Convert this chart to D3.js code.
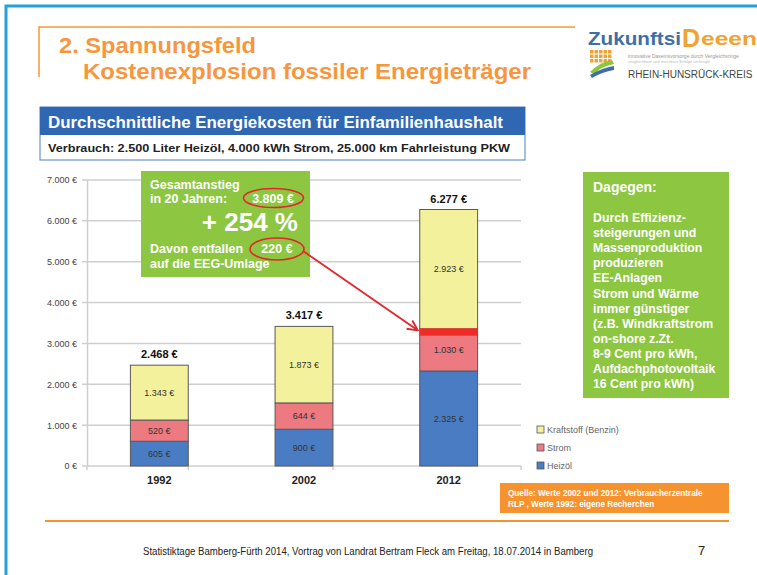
<!DOCTYPE html>
<html lang='de'>
<head>
<meta charset='UTF-8'>
<script src='https://d3js.org/d3.v7.min.js'></script>
<title>Kostenexplosion fossiler Energieträger</title>
<style>
  body { margin: 0; background: #fff; }
  svg { display: block; font-family: Arial, 'Liberation Sans', sans-serif; }
</style>
</head>
<body>
<svg id='slide' width='757' height='575'></svg>
<script>
// chart data
const years = ['1992', '2002', '2012']
const heizoel = [605, 900, 2325]
const strom = [520, 644, 1030]
const kraftstoff = [1343, 1873, 2923]
const totals = [2468, 3417, 6277]
const yTicks = [0, 1000, 2000, 3000, 4000, 5000, 6000, 7000]
const legendLabels = ['Kraftstoff (Benzin)', 'Strom', 'Heizöl']
const eegRange = [3190, 3370]   // red highlight on the 2012 bar (EEG share)

const rightBoxLines = ['Durch Effizienz-', 'steigerungen und', 'Massenproduktion', 'produzieren',
  'EE-Anlagen', 'Strom und Wärme', 'immer günstiger', '(z.B. Windkraftstrom',
  'on-shore z.Zt.', '8-9 Cent pro kWh,', 'Aufdachphotovoltaik', '16 Cent pro kWh)']

const colors = { heizoel: '#4a7cc3', strom: '#ec7a80', kraftstoff: '#f4f19c' }
const green = '#8dc641', orange = '#f7963d', blueFrame = '#23a3de'

const de = d3.formatLocale({ decimal: ',', thousands: '.', grouping: [3], currency: ['', ' €'] })
const euro = v => de.format(',')(v) + ' €'

const svg = d3.select('#slide')

// slide frame
svg.append('rect').attr('x', 6).attr('y', 6).attr('width', 760).attr('height', 580)
  .attr('fill', 'none').attr('stroke', blueFrame).attr('stroke-width', 3)

// title bracket + title
svg.append('path').attr('d', 'M39,77 V27 H575').attr('fill', 'none')
  .attr('stroke', orange).attr('stroke-width', 1.5)
svg.append('text').attr('x', 59).attr('y', 53).text('2. Spannungsfeld')
  .attr('font-size', 22).attr('font-weight', 'bold').attr('fill', orange)
  .attr('textLength', 197).attr('lengthAdjust', 'spacingAndGlyphs')
svg.append('text').attr('x', 83).attr('y', 79).text('Kostenexplosion fossiler Energieträger')
  .attr('font-size', 22).attr('font-weight', 'bold').attr('fill', orange)
  .attr('textLength', 448).attr('lengthAdjust', 'spacingAndGlyphs')

// logo (rough)
const logo = svg.append('g')
logo.append('text').attr('x', 588).attr('y', 45).attr('font-size', 19).attr('font-weight', 'bold')
  .attr('fill', '#3d6fa6').attr('textLength', 93).attr('lengthAdjust', 'spacingAndGlyphs').text('Zukunftsi')
logo.append('text').attr('x', 682).attr('y', 47).attr('font-size', 25).attr('font-weight', 'bold')
  .attr('fill', '#f0a332').text('D')
logo.append('text').attr('x', 701).attr('y', 45).attr('font-size', 19).attr('font-weight', 'bold')
  .attr('fill', '#f0a332').attr('textLength', 56).attr('lengthAdjust', 'spacingAndGlyphs').text('eeen')
logo.append('text').attr('x', 628).attr('y', 58).attr('font-size', 5).attr('fill', '#999').text('innovative Daseinsvorsorge durch Vergleichsringe')
logo.append('text').attr('x', 628).attr('y', 63).attr('font-size', 4).attr('fill', '#bbb').text('vergleichbare und messbare Erfolge verknüpft')
logo.append('text').attr('x', 628).attr('y', 78).attr('font-size', 10).attr('fill', '#444').text('RHEIN-HUNSRÜCK-KREIS')
for (let r = 0; r < 3; r++) for (let c = 0; c < 5; c++) {
  logo.append('rect').attr('x', 590 + c * 4.5).attr('y', 50 + r * 4.5).attr('width', 3.5).attr('height', 3.5).attr('fill', '#f0a332')
}
logo.append('path').attr('d', 'M590,72 Q600,62 612,60 L614,64 Q602,66 594,74 Z').attr('fill', '#8dc641')
logo.append('path').attr('d', 'M590,75 Q602,68 614,66 L614,70 Q602,72 592,78 Z').attr('fill', '#3d6fa6')

// blue header
svg.append('rect').attr('x', 40).attr('y', 107).attr('width', 485).attr('height', 53)
  .attr('fill', '#fff').attr('stroke', '#4a7cc3').attr('stroke-width', 1)
svg.append('rect').attr('x', 40).attr('y', 107).attr('width', 485).attr('height', 28).attr('fill', '#2f67b2')
svg.append('text').attr('x', 48).attr('y', 128).text('Durchschnittliche Energiekosten für Einfamilienhaushalt')
  .attr('font-size', 16).attr('font-weight', 'bold').attr('fill', '#fff')
  .attr('textLength', 455).attr('lengthAdjust', 'spacingAndGlyphs')
svg.append('text').attr('x', 48).attr('y', 152).text('Verbrauch: 2.500 Liter Heizöl, 4.000 kWh Strom, 25.000 km Fahrleistung PKW')
  .attr('font-size', 11.5).attr('font-weight', 'bold').attr('fill', '#222')
  .attr('textLength', 462).attr('lengthAdjust', 'spacingAndGlyphs')

// chart
const x = d3.scaleBand().domain(years).range([87, 521]).paddingInner(0.6).paddingOuter(0.3)
const y = d3.scaleLinear().domain([0, 7000]).range([466, 180])

const grid = svg.append('g')
grid.selectAll('line').data(yTicks).join('line')
  .attr('x1', 82).attr('x2', 521).attr('y1', d => y(d)).attr('y2', d => y(d))
  .attr('stroke', '#cfcfcf').attr('stroke-width', 1.5)

const yAxis = svg.append('g').attr('transform', 'translate(87,0)')
  .call(d3.axisLeft(y).tickValues(yTicks).tickSize(0).tickPadding(10).tickFormat(euro))
yAxis.select('.domain').attr('stroke', '#cfcfcf').attr('stroke-width', 1.5)
yAxis.selectAll('text').attr('font-size', 9).attr('fill', '#444').attr('font-family', 'Arial, Liberation Sans, sans-serif')

const xAxis = svg.append('g').attr('transform', 'translate(0,466)')
const bounds = [87, ...years.slice(1).map(d => x(d) - x.step() * x.paddingInner()), 521]
xAxis.selectAll('line').data(bounds).join('line')
  .attr('x1', d => d).attr('x2', d => d).attr('y1', 0).attr('y2', 4)
  .attr('stroke', '#cfcfcf').attr('stroke-width', 1.5)
xAxis.selectAll('text').data(years).join('text')
  .attr('x', d => x(d) + x.bandwidth() / 2).attr('y', 18).attr('text-anchor', 'middle')
  .attr('font-size', 11).attr('font-weight', 'bold').attr('fill', '#222').text(d => d)

const rows = years.map((yr, i) => ({ year: yr, heizoel: heizoel[i], strom: strom[i], kraftstoff: kraftstoff[i] }))
const keys = ['heizoel', 'strom', 'kraftstoff']
const stack = d3.stack().keys(keys)(rows)

const layers = svg.append('g').selectAll('g').data(stack).join('g')
  .attr('fill', d => colors[d.key])
layers.selectAll('rect').data(d => d).join('rect')
  .attr('x', d => x(d.data.year)).attr('width', x.bandwidth())
  .attr('y', d => y(d[1])).attr('height', d => y(d[0]) - y(d[1]))
  .attr('stroke', '#595959').attr('stroke-width', 1)
layers.selectAll('text').data(d => d.map(v => ({ v, key: d.key }))).join('text')
  .attr('x', d => x(d.v.data.year) + x.bandwidth() / 2)
  .attr('y', d => (y(d.v[0]) + y(d.v[1])) / 2 + 3)
  .attr('text-anchor', 'middle').attr('font-size', 9).attr('fill', '#333')
  .text(d => euro(d.v.data[d.key]))

svg.append('g').selectAll('text').data(years).join('text')
  .attr('x', d => x(d) + x.bandwidth() / 2).attr('y', (d, i) => y(totals[i]) - 7)
  .attr('text-anchor', 'middle').attr('font-size', 11).attr('font-weight', 'bold').attr('fill', '#111')
  .text((d, i) => euro(totals[i]))

// legend
const legend = svg.append('g').selectAll('g').data(legendLabels).join('g')
  .attr('transform', (d, i) => `translate(537,${426 + i * 18})`)
legend.append('rect').attr('width', 7).attr('height', 7)
  .attr('fill', (d, i) => colors[keys[2 - i]]).attr('stroke', '#555').attr('stroke-width', 0.8)
legend.append('text').attr('x', 10).attr('y', 7).attr('font-size', 9).attr('fill', '#666').text(d => d)

// EEG highlight on 2012 bar
svg.append('rect').attr('x', x('2012')).attr('width', x.bandwidth())
  .attr('y', y(eegRange[1])).attr('height', y(eegRange[0]) - y(eegRange[1])).attr('fill', '#ee2b25')

// green note box (left)
svg.append('rect').attr('x', 141).attr('y', 171).attr('width', 169).attr('height', 106).attr('fill', green)
const note = svg.append('g').attr('fill', '#fff').attr('font-weight', 'bold')
note.append('text').attr('x', 150).attr('y', 189).attr('font-size', 12.5).text('Gesamtanstieg')
note.append('text').attr('x', 150).attr('y', 203).attr('font-size', 12.5).text('in 20 Jahren:')
note.append('text').attr('x', 273).attr('y', 203).attr('font-size', 12.5).attr('text-anchor', 'middle').text('3.809 €')
note.append('text').attr('x', 298).attr('y', 231).attr('font-size', 26).attr('text-anchor', 'end').text('+ 254 %')
note.append('text').attr('x', 150).attr('y', 253).attr('font-size', 12.5).text('Davon entfallen')
note.append('text').attr('x', 277).attr('y', 253).attr('font-size', 12.5).attr('text-anchor', 'middle').text('220 €')
note.append('text').attr('x', 150).attr('y', 268).attr('font-size', 12.5).text('auf die EEG-Umlage')

svg.append('ellipse').attr('cx', 273.5).attr('cy', 198).attr('rx', 30).attr('ry', 9.5)
  .attr('fill', 'none').attr('stroke', '#e3262b').attr('stroke-width', 1.6)
svg.append('ellipse').attr('cx', 277).attr('cy', 249).attr('rx', 27).attr('ry', 11)
  .attr('fill', 'none').attr('stroke', '#e3262b').attr('stroke-width', 1.6)

// arrow to EEG highlight
svg.append('defs').append('marker').attr('id', 'head').attr('viewBox', '0 0 10 10')
  .attr('refX', 9).attr('refY', 5).attr('markerWidth', 7).attr('markerHeight', 7).attr('orient', 'auto')
  .append('path').attr('d', 'M1,1 L9,5 L1,9').attr('fill', 'none').attr('stroke', '#e3262b').attr('stroke-width', 1.5)
svg.append('line').attr('x1', 303).attr('y1', 251).attr('x2', x('2012') - 2).attr('y2', y(eegRange[1]) + 2)
  .attr('stroke', '#e3262b').attr('stroke-width', 1.8).attr('marker-end', 'url(#head)')

// green box (right)
svg.append('rect').attr('x', 583).attr('y', 172).attr('width', 146).attr('height', 226).attr('fill', green)
svg.append('text').attr('x', 593).attr('y', 192).attr('font-size', 14).attr('font-weight', 'bold')
  .attr('fill', '#fff').text('Dagegen:')
svg.append('g').selectAll('text').data(rightBoxLines).join('text')
  .attr('x', 593).attr('y', (d, i) => 222 + i * 15.1)
  .attr('font-size', 12.3).attr('font-weight', 'bold').attr('fill', '#fff').text(d => d)

// source box
svg.append('rect').attr('x', 500).attr('y', 483).attr('width', 229).attr('height', 30).attr('fill', '#f7932e')
svg.append('text').attr('x', 508).attr('y', 496).attr('font-size', 8.2).attr('font-weight', 'bold')
  .attr('fill', '#fff').text('Quelle:  Werte 2002 und 2012: Verbraucherzentrale')
svg.append('text').attr('x', 508).attr('y', 507).attr('font-size', 8.2).attr('font-weight', 'bold')
  .attr('fill', '#fff').text('RLP , Werte 1992: eigene Recherchen')

// footer
svg.append('rect').attr('x', 45).attr('y', 520).attr('width', 684).attr('height', 2).attr('fill', '#f7932e')
svg.append('text').attr('x', 143).attr('y', 555).attr('font-size', 10).attr('fill', '#222')
  .attr('textLength', 450).attr('lengthAdjust', 'spacingAndGlyphs')
  .text('Statistiktage Bamberg-Fürth 2014, Vortrag von Landrat Bertram Fleck am Freitag, 18.07.2014 in Bamberg')
svg.append('text').attr('x', 698).attr('y', 555).attr('font-size', 13).attr('fill', '#222').text('7')
</script>
</body>
</html>
